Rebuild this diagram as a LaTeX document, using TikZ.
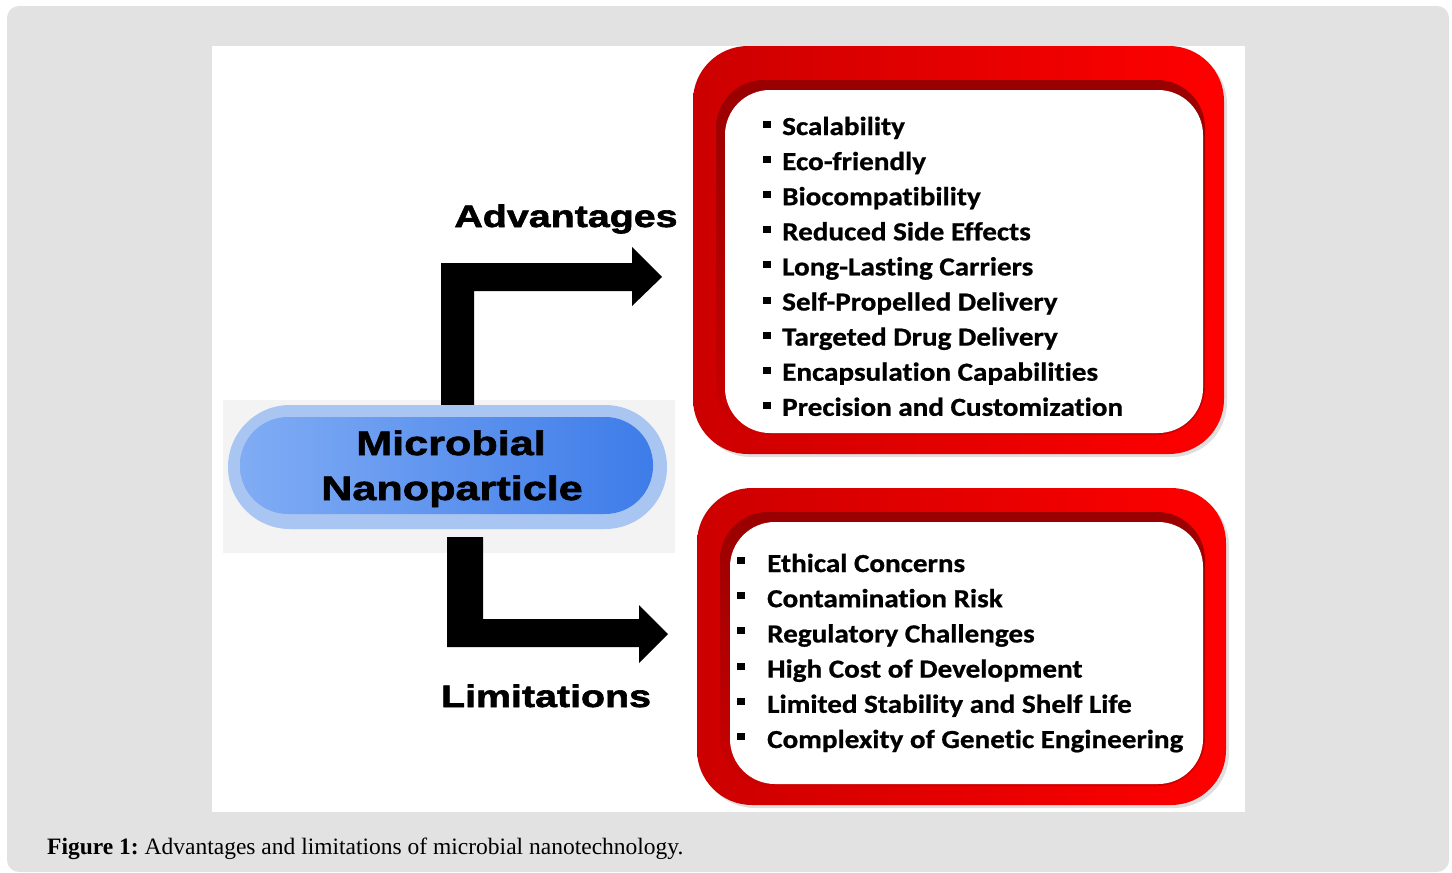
\documentclass[tikz,border=0pt]{standalone}
\usepackage{fontspec}
\setmainfont{Liberation Serif}
\newfontfamily\headfont[FakeStretch=1.27,BoldFont={Liberation Sans Bold},BoldFeatures={FakeBold=2}]{Liberation Sans}
\newfontfamily\boxfont[FakeStretch=1.12,Ligatures=NoCommon,BoldFeatures={FakeBold=0.8}]{Carlito}
\usetikzlibrary{shadows}
\definecolor{bggray}{HTML}{E2E2E2}
\definecolor{backgray}{HTML}{F3F3F3}
\definecolor{halo}{HTML}{A9C6F2}
\definecolor{pillL}{HTML}{80ACF4}
\definecolor{pillR}{HTML}{3E7CE9}
\definecolor{redL}{HTML}{CC0000}
\definecolor{redR}{HTML}{FF0000}
\definecolor{redDark}{HTML}{990000}
\tikzset{
  headtxt/.style={inner sep=0pt, anchor=base, font=\headfont\bfseries\fontsize{31}{31}\selectfont},
  pilltxt/.style={inner sep=0pt, anchor=base, font=\headfont\bfseries\fontsize{34}{34}\selectfont},
  itemtxt/.style={inner sep=0pt, anchor=base west, font=\boxfont\bfseries\fontsize{26}{26}\selectfont},
  redframe/.style={rounded corners=55pt, left color=redL, right color=redR,
     drop shadow={shadow xshift=3pt, shadow yshift=-3pt, opacity=0.25}},
  innerdark/.style={rounded corners=48pt, top color=redDark, bottom color=redL},
  innerwhite/.style={rounded corners=45pt, fill=white},
  bigarrow/.style={fill=black}
}
\newcommand{\ubul}{\rule[7pt]{8pt}{7pt}\hspace{11pt}}
\newcommand{\lbul}{\rule[8pt]{8pt}{7pt}\hspace{22pt}}
\begin{document}
\frenchspacing
\begin{tikzpicture}[x=1pt,y=-1pt]
\useasboundingbox (0,0) rectangle (1452,873);
\fill[white] (0,0) rectangle (1452,873);
\fill[bggray, rounded corners=12pt] (7,6) rectangle (1449,872);
\fill[white] (212,46) rectangle (1245,812);

% upper red box
\path[redframe] (693,46) rectangle (1224,454);
\path[innerdark] (716,80) rectangle (1205,435);
\path[innerwhite] (725,90) rectangle (1203,433);

% lower red box
\path[redframe] (697,488) rectangle (1226,805);
\path[innerdark] (720,512) rectangle (1205,786);
\path[innerwhite] (730,522) rectangle (1203,784);

% pill backing
\fill[backgray] (223,400) rectangle (675,553);

% arrows
\fill[bigarrow] (441,410) -- (441,263) -- (632,263) -- (632,247) -- (662,277)
   -- (632,306) -- (632,291) -- (474,291) -- (474,410) -- cycle;
\fill[bigarrow] (447,537) -- (483,537) -- (483,619) -- (639,619) -- (639,605)
   -- (668,634) -- (639,663) -- (639,647) -- (447,647) -- cycle;

% pill
\fill[halo, rounded corners=62pt] (228,405) rectangle (667,529);
\path[left color=pillL, right color=pillR, rounded corners=48pt] (240,417) rectangle (653,514);
\node[pilltxt] (mic) at (451,455) {Microbial};
\node[pilltxt] (nano) at (452,500) {Nanoparticle};

% headings
\node[headtxt] (adv) at (566,227) {Advantages};
\node[headtxt] (lim) at (546,707) {Limitations};

% advantages items
\foreach \t [count=\i] in {Scalability, Eco-friendly, Biocompatibility, Reduced Side Effects,
   Long-Lasting Carriers, Self-Propelled Delivery, Targeted Drug Delivery,
   Encapsulation Capabilities, Precision and Customization}
  \node[itemtxt] (a\i) at (763,{135+35.1*(\i-1)}) {\ubul\t};

% limitations items
\foreach \t [count=\i] in {Ethical Concerns, Contamination Risk, Regulatory Challenges,
   High Cost of Development, Limited Stability and Shelf Life, Complexity of Genetic Engineering}
  \node[itemtxt] (l\i) at (737,{572+35.2*(\i-1)}) {\lbul\t};

% caption
\node[inner sep=0pt, anchor=base west, font=\fontsize{23.5}{23.5}\selectfont] (cap) at (47,854)
  {\textbf{Figure 1:} Advantages and limitations of microbial nanotechnology.};
\end{tikzpicture}
\end{document}
